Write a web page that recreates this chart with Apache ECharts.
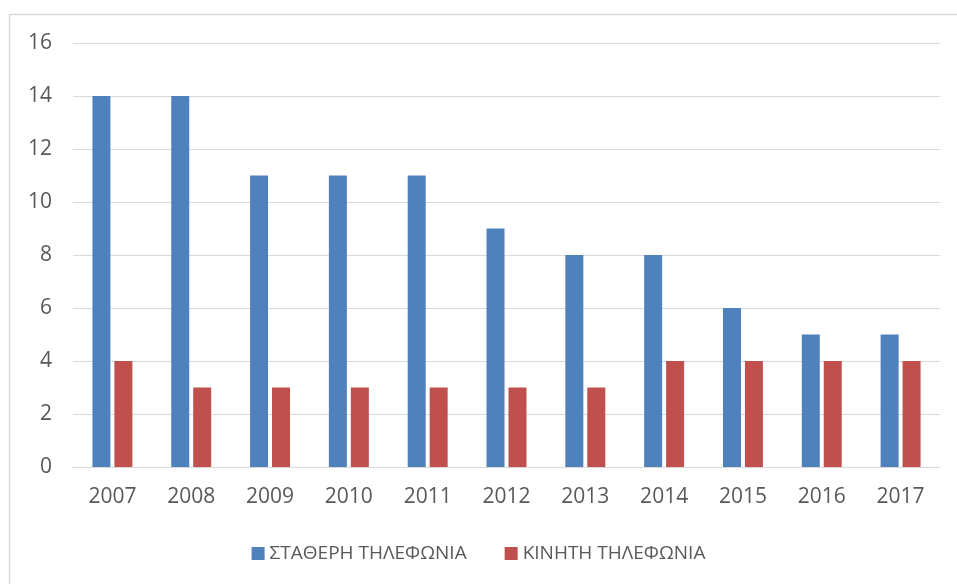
<!DOCTYPE html>
<html>
<head>
<meta charset="utf-8">
<script src="https://cdn.jsdelivr.net/npm/echarts@6/dist/echarts.min.js"></script>
<style>
  html, body { margin: 0; padding: 0; background: #fff; }
  #chart { width: 957px; height: 584px; }
</style>
</head>
<body>
<div id="chart"></div>
<script>
    var years = ['2007', '2008', '2009', '2010', '2011', '2012', '2013', '2014', '2015', '2016', '2017'];
    var fixedPhone = [14, 14, 11, 11, 11, 9, 8, 8, 6, 5, 5];
    var mobilePhone = [4, 3, 3, 3, 3, 3, 3, 4, 4, 4, 4];
    var seriesNames = ['ΣΤΑΘΕΡΗ ΤΗΛΕΦΩΝΙΑ', 'ΚΙΝΗΤΗ ΤΗΛΕΦΩΝΙΑ'];

    var textColor = '#595959';
    var font = 'Open Sans';

    var myChart = echarts.init(document.getElementById('chart'));
    myChart.setOption({
        animation: false,
        graphic: [{
            type: 'rect',
            shape: { x: 9.5, y: 14.5, width: 1000, height: 1000 },
            style: { fill: 'none', stroke: '#d9d9d9', lineWidth: 1.5 },
            silent: true
        }],
        grid: { left: 73, right: 17, top: 43, bottom: 117 },
        legend: {
            top: 539,
            left: 'center',
            itemWidth: 13,
            itemHeight: 13,
            itemGap: 38,
            itemStyle: { borderWidth: 0 },
            icon: 'rect',
            textStyle: { color: textColor, fontSize: 19, fontFamily: font },
            data: seriesNames
        },
        xAxis: {
            type: 'category',
            data: years,
            axisLine: { lineStyle: { color: '#d9d9d9', width: 1 } },
            axisTick: { show: false },
            axisLabel: { color: textColor, fontSize: 21, fontFamily: font, margin: 20 }
        },
        yAxis: {
            type: 'value',
            min: 0,
            max: 16,
            interval: 2,
            axisLine: { show: false },
            axisTick: { show: false },
            axisLabel: { color: textColor, fontSize: 21, fontFamily: font, margin: 21 },
            splitLine: { lineStyle: { color: '#d9d9d9', width: 1 } }
        },
        series: [{
            name: seriesNames[0],
            type: 'bar',
            data: fixedPhone,
            barWidth: 18,
            barGap: '22%',
            itemStyle: { color: '#4f81bd' }
        }, {
            name: seriesNames[1],
            type: 'bar',
            data: mobilePhone,
            barWidth: 18,
            itemStyle: { color: '#c0504d' }
        }]
    });
</script>
</body>
</html>
